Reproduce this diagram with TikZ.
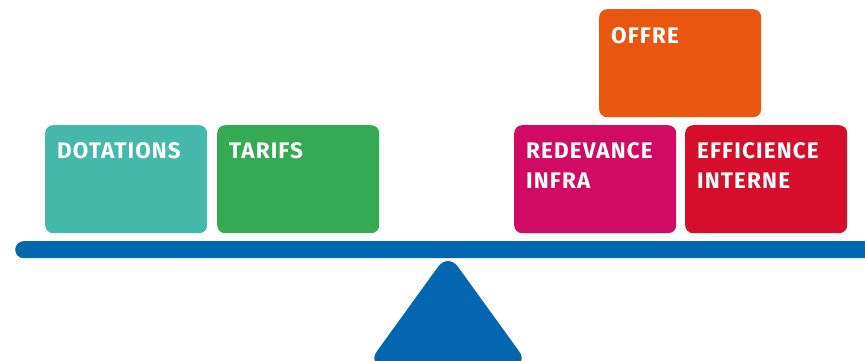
\documentclass[tikz,border=0pt]{standalone}
\usepackage{fontspec}
\setmainfont{Fira Sans}
\definecolor{cteal}{HTML}{45B8AC}
\definecolor{cgreen}{HTML}{35AA55}
\definecolor{corange}{HTML}{E85610}
\definecolor{cmagenta}{HTML}{D00A65}
\definecolor{cred}{HTML}{D60D2B}
\definecolor{cblue}{HTML}{0566B0}
\begin{document}
\begin{tikzpicture}[x=1pt,y=-1pt,
  blockbox/.style={rectangle, rounded corners=8pt, minimum width=162pt, minimum height=108pt, inner sep=0pt, anchor=north west},
  blocktext/.style={anchor=north west, inner sep=0pt, text=white, align=left,
    font=\fontsize{22.5pt}{30pt}\selectfont\bfseries\addfontfeatures{LetterSpace=5}}]
\useasboundingbox (0,0) rectangle (865,361);
% beam
\node[rectangle, fill=cblue, rounded corners=8.5pt, minimum width=870pt, minimum height=17pt, inner sep=0pt, anchor=north west] (beam) at (15,241) {};
% fulcrum
\fill[cblue, rounded corners=17pt] (448,253) -- (529,365) -- (367,365) -- cycle;
% boxes
\node[blockbox, fill=cteal] (dot) at (45,125) {};
\node[blockbox, fill=cgreen] (tar) at (217,125) {};
\node[blockbox, fill=cmagenta] (red) at (514,125) {};
\node[blockbox, fill=cred] (eff) at (685,125) {};
\node[blockbox, fill=corange] (off) at (599,9) {};
% texts
\node[blocktext] (tdot) at (57,142) {DOTATIONS};
\node[blocktext] (ttar) at (229,142) {TARIFS};
\node[blocktext] (tred) at (526,142) {REDEVANCE\\INFRA};
\node[blocktext] (teff) at (697,142) {EFFICIENCE\\INTERNE};
\node[blocktext] (toff) at (611,27) {OFFRE};
\end{tikzpicture}
\end{document}
